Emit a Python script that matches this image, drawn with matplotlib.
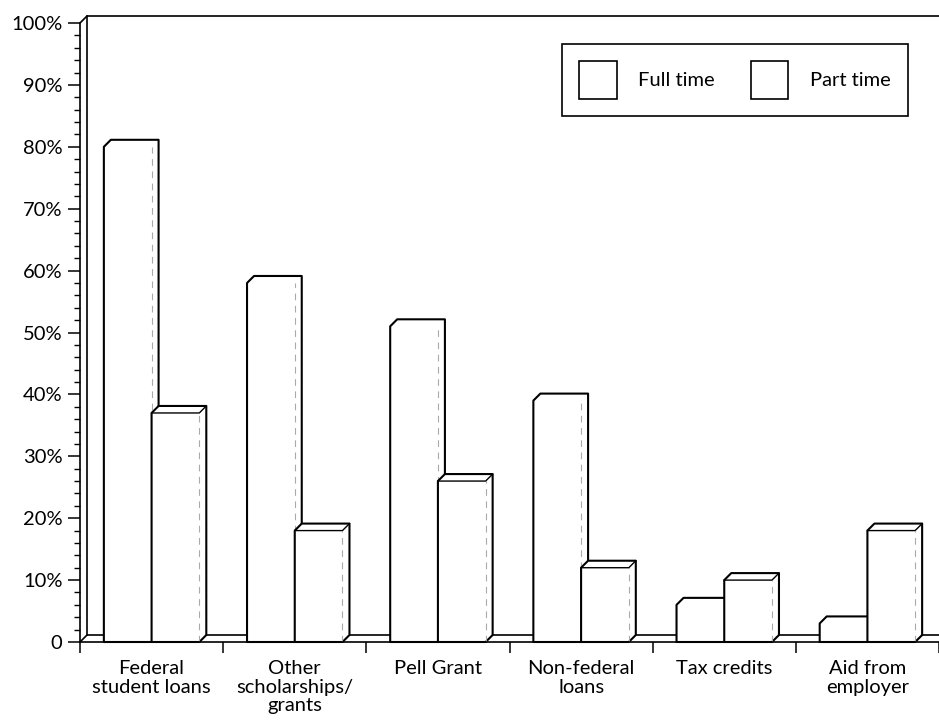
import matplotlib
matplotlib.use("Agg")
import matplotlib.pyplot as plt
from matplotlib.patches import Polygon, Patch
from matplotlib.ticker import MultipleLocator

plt.rcParams['font.family'] = ['Lato', 'DejaVu Sans']

categories = ["Federal\nstudent loans", "Other\nscholarships/\ngrants", "Pell Grant",
              "Non-federal\nloans", "Tax credits", "Aid from\nemployer"]
full_time = [80, 58, 51, 39, 6, 3]
part_time = [37, 18, 26, 12, 10, 18]
y_ticks = [0, 10, 20, 30, 40, 50, 60, 70, 80, 90, 100]
y_labels = ["0"] + [f"{v}%" for v in y_ticks[1:]]

fig = plt.figure(figsize=(9.39, 7.23), dpi=100)
ax = fig.add_axes([80 / 939, 81 / 723, 859 / 939, 619 / 723])
ax.set_xlim(0, len(categories))
ax.set_ylim(0, 100)

# depth of the pseudo-3d boxes, in data units (about 7 px each way)
dx = 7 / 143.2
dy = 7 / 6.19
bar_w = 1 / 3
lw = 1.5
fs = 14.5

n = len(categories)

# back wall and floor
ax.plot([0, dx, n], [100, 100 + dy, 100 + dy], color="black", lw=1.2, clip_on=False, zorder=1)
ax.plot([dx, dx], [dy, 100 + dy], color="black", lw=1.2, clip_on=False, zorder=1)
ax.plot([0, dx, n], [0, dy, dy], color="black", lw=1.2, clip_on=False, zorder=1)


def draw_box(x0, h, z, top_face):
    x1 = x0 + bar_w
    pts = [(x0, 0), (x0, h), (x0 + dx, h + dy), (x1 + dx, h + dy), (x1 + dx, dy), (x1, 0)]
    ax.add_patch(Polygon(pts, closed=True, facecolor="white", edgecolor="black",
                         lw=lw, joinstyle="round", zorder=z, clip_on=False))
    # inner edges are faint
    ax.plot([x1, x1], [0, h], color="#aaaaaa", lw=0.8, ls=(0, (6, 5)), zorder=z + 0.1)
    if top_face:
        ax.plot([x0, x1, x1 + dx], [h, h, h + dy], color="black", lw=1.0, zorder=z + 0.1)


for i in range(n):
    draw_box(i + 1 / 6, full_time[i], 2, False)
    draw_box(i + 1 / 2, part_time[i], 3, True)

# axes styling
for side in ["top", "right"]:
    ax.spines[side].set_visible(False)
ax.spines["left"].set_linewidth(1.2)
ax.spines["bottom"].set_linewidth(1.2)
ax.spines["left"].set_zorder(5)
ax.spines["bottom"].set_zorder(5)

ax.set_yticks(y_ticks)
ax.set_yticklabels(y_labels)
ax.yaxis.set_minor_locator(MultipleLocator(2))
ax.tick_params(axis="y", which="major", length=8.6, width=1.1, pad=4, labelsize=fs)
ax.tick_params(axis="y", which="minor", length=4.3, width=1.0)

ax.set_xticks(range(n + 1))
ax.set_xticklabels([])
ax.set_xticks([i + 0.5 for i in range(n)], minor=True)
ax.set_xticklabels(categories, minor=True, linespacing=1.12)
ax.tick_params(axis="x", which="major", length=8, width=1.1)
ax.tick_params(axis="x", which="minor", length=0, pad=13, labelsize=fs)

handles = [Patch(facecolor="white", edgecolor="black", lw=1.2, label="Full time"),
           Patch(facecolor="white", edgecolor="black", lw=1.2, label="Part time")]
leg = ax.legend(handles=handles, ncol=2, loc="upper right",
                bbox_to_anchor=(908 / 939, (723 - 44) / 723), bbox_transform=fig.transFigure,
                fontsize=fs, handlelength=1.84, handleheight=2.53, handletextpad=1.09,
                columnspacing=1.79, borderpad=0.85, borderaxespad=0, fancybox=False,
                framealpha=1, edgecolor="black")
leg.get_frame().set_linewidth(1.2)

fig.savefig("out.png", dpi=100)
